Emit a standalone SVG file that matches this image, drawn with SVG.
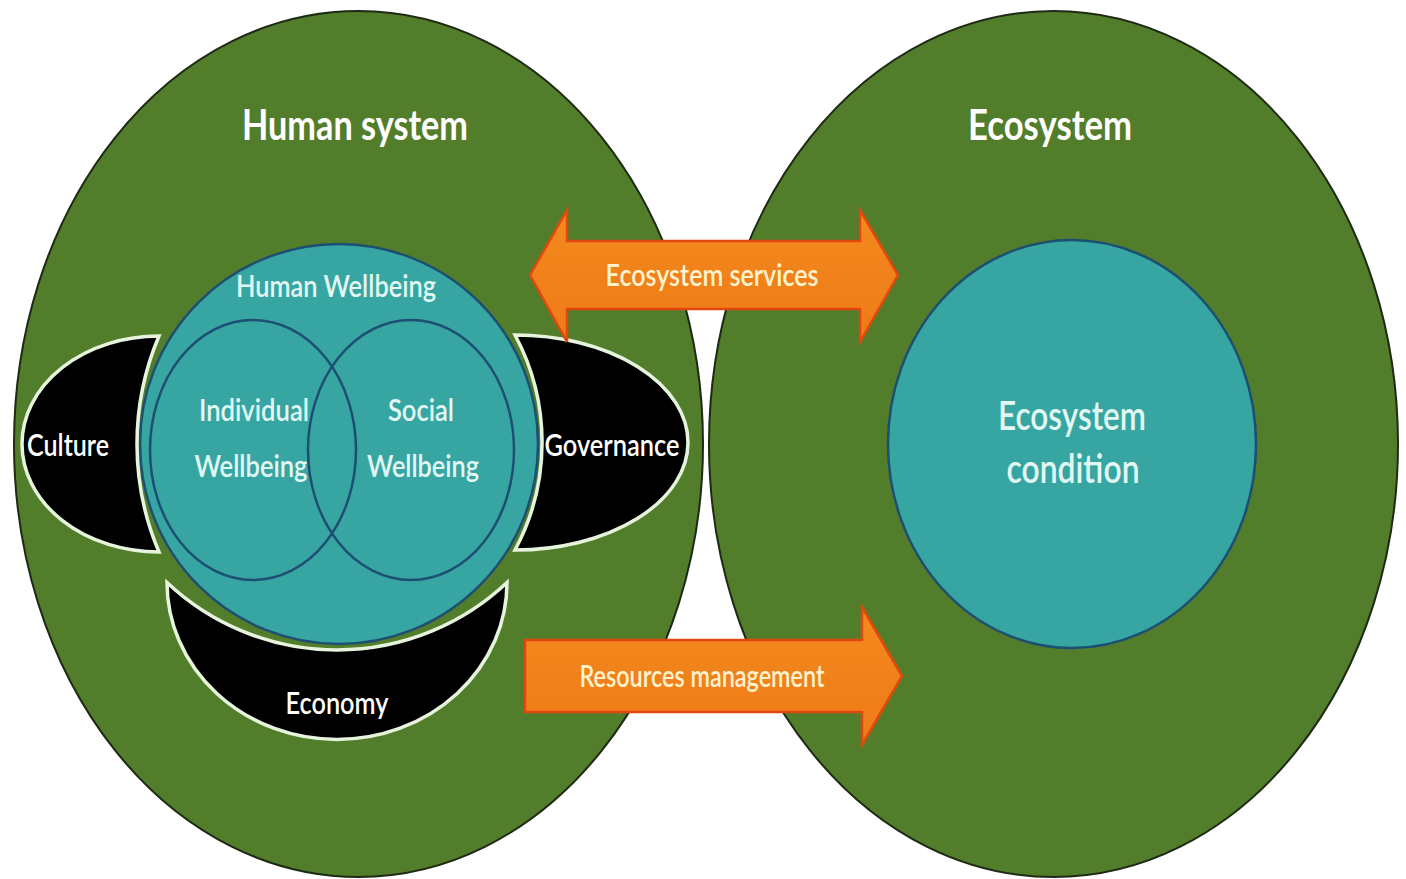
<svg xmlns="http://www.w3.org/2000/svg" width="1406" height="879" viewBox="0 0 1406 879">
  <defs>
    <style>
      .big { fill: #527D2B; stroke: #1E2A14; stroke-width: 2; }
      .teal { fill: #37A6A3; stroke: #1D4F72; stroke-width: 2.5; }
      .inner { fill: none; stroke: #1D4F72; stroke-width: 2.5; }
      .dark { fill: #000000; stroke: #E6F4DE; stroke-width: 3.5; stroke-linejoin: miter; }
      .arrow { fill: url(#og); stroke: #E2480E; stroke-width: 2.5; stroke-linejoin: miter; }
      .t { font-family: Lato, "Open Sans", "Liberation Sans", sans-serif; text-anchor: middle; }
      .title { fill: #FFFFFF; font-size: 42px; font-weight: bold; }
      .cyan { fill: #E2F8F3; font-size: 31px; font-weight: 600; }
      .lbl { fill: #FFFFFF; font-size: 30px; font-weight: 600; }
      .arrtxt { fill: #FFF3CF; font-size: 30px; font-weight: 600; }
      .eco { fill: #E2F8F3; font-size: 40px; font-weight: 600; }
    </style>
    <linearGradient id="og" x1="0" y1="0" x2="0" y2="1">
      <stop offset="0" stop-color="#F48A1E"/>
      <stop offset="1" stop-color="#EE7A18"/>
    </linearGradient>
  </defs>
  <rect width="1406" height="879" fill="#FFFFFF"/>

  <g id="human-system">
    <ellipse class="big" cx="358.5" cy="444" rx="344.5" ry="433"/>
    <text class="t title" x="355" y="140" textLength="226" lengthAdjust="spacingAndGlyphs">Human system</text>
  </g>

  <g id="ecosystem">
    <ellipse class="big" cx="1053.5" cy="444" rx="344.5" ry="433"/>
    <text class="t title" x="1050" y="140" textLength="164" lengthAdjust="spacingAndGlyphs">Ecosystem</text>
  </g>

  <g id="ecosystem-condition">
    <ellipse class="teal" cx="1072" cy="444" rx="184" ry="204"/>
    <text class="t eco" x="1072" y="430" textLength="148" lengthAdjust="spacingAndGlyphs">Ecosystem</text>
    <text class="t eco" x="1073" y="483" textLength="133" lengthAdjust="spacingAndGlyphs">condition</text>
  </g>

  <g id="human-wellbeing">
    <ellipse class="teal" cx="339" cy="444" rx="199" ry="200"/>
    <text class="t cyan" x="336" y="297" textLength="200" lengthAdjust="spacingAndGlyphs">Human Wellbeing</text>
  </g>

  <g id="individual-wellbeing">
    <ellipse class="inner" cx="253" cy="450" rx="103" ry="130"/>
    <text class="t cyan" x="254" y="421" textLength="110" lengthAdjust="spacingAndGlyphs">Individual</text>
    <text class="t cyan" x="251" y="477" textLength="113" lengthAdjust="spacingAndGlyphs">Wellbeing</text>
  </g>

  <g id="social-wellbeing">
    <ellipse class="inner" cx="411" cy="450" rx="103" ry="130"/>
    <text class="t cyan" x="421" y="421" textLength="66" lengthAdjust="spacingAndGlyphs">Social</text>
    <text class="t cyan" x="423" y="477" textLength="112" lengthAdjust="spacingAndGlyphs">Wellbeing</text>
  </g>

  <g id="culture">
    <path class="dark" d="M159,336 A137,108 0 0 0 159,552 A276,276 0 0 1 159,336 Z"/>
    <text class="t lbl" x="68" y="456" textLength="82" lengthAdjust="spacingAndGlyphs">Culture</text>
  </g>

  <g id="governance">
    <path class="dark" d="M515,335 A173,107.5 0 0 1 515,550 A227,227 0 0 0 515,335 Z"/>
    <text class="t lbl" x="612" y="456" textLength="135" lengthAdjust="spacingAndGlyphs">Governance</text>
  </g>

  <g id="economy">
    <path class="dark" d="M167,582.5 A170,157 0 0 0 507,582.5 A248,248 0 0 1 167,582.5 Z"/>
    <text class="t lbl" x="337" y="714" textLength="103" lengthAdjust="spacingAndGlyphs">Economy</text>
  </g>

  <g id="connectors">
    <g id="ecosystem-services">
      <polygon class="arrow" points="530,275 567,210 567,241 860,241 860,210 898,275 860,342 860,309 567,309 567,342"/>
      <text class="t arrtxt" x="712" y="286" textLength="213" lengthAdjust="spacingAndGlyphs">Ecosystem services</text>
    </g>
    <g id="resources-management">
      <polygon class="arrow" points="525,640 862,640 862,607 902,676 862,745 862,712 525,712"/>
      <text class="t arrtxt" x="702" y="687" textLength="245" lengthAdjust="spacingAndGlyphs">Resources management</text>
    </g>
  </g>
</svg>
